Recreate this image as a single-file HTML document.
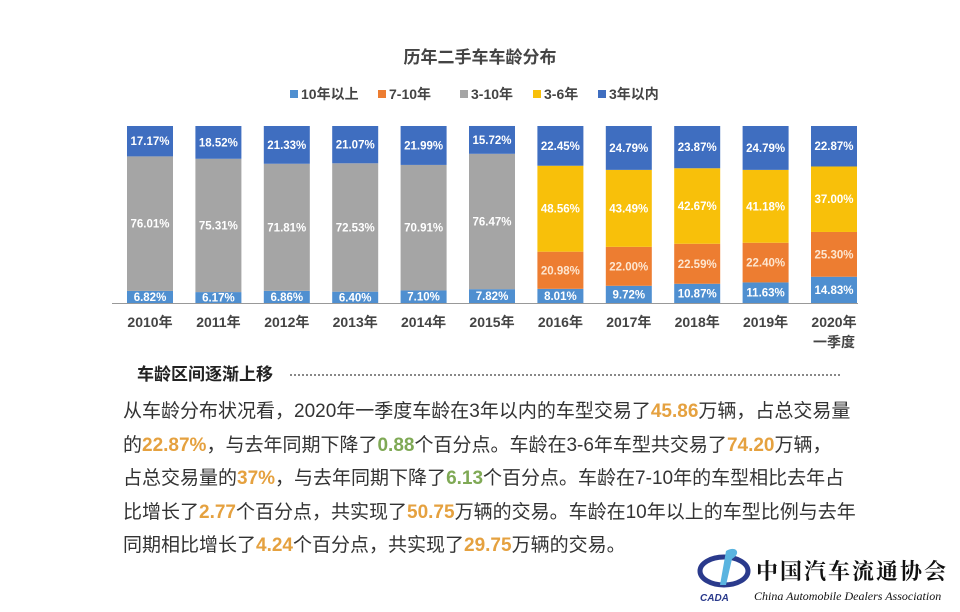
<!DOCTYPE html>
<html><head><meta charset="utf-8">
<style>
body{margin:0;background:#fff;width:960px;height:612px;overflow:hidden;position:relative;font-family:"Liberation Sans","Noto Sans CJK SC",sans-serif;}
#chart{position:absolute;left:0;top:0;}
.sec{position:absolute;left:137px;top:360px;font-size:17px;font-weight:bold;color:#222;white-space:nowrap;}
.dots{position:absolute;left:290px;top:374px;width:550px;border-top:2px dotted #888;}
.para{position:absolute;left:123px;top:395px;font-size:19px;color:#333;line-height:33.5px;}
.para div{white-space:nowrap;}
.o{color:#e5a13f;font-weight:bold;}
.g{color:#7fa955;font-weight:bold;}
.logo{position:absolute;left:696px;top:545px;}
</style></head><body>
<svg id="chart" width="960" height="360"></svg>
<div class="sec">车龄区间逐渐上移</div>
<div class="dots"></div>
<div class="para">
<div>从车龄分布状况看，2020年一季度车龄在3年以内的车型交易了<span class="o">45.86</span>万辆，占总交易量</div>
<div>的<span class="o">22.87%</span>，与去年同期下降了<span class="g">0.88</span>个百分点。车龄在3-6年车型共交易了<span class="o">74.20</span>万辆，</div>
<div>占总交易量的<span class="o">37%</span>，与去年同期下降了<span class="g">6.13</span>个百分点。车龄在7-10年的车型相比去年占</div>
<div>比增长了<span class="o">2.77</span>个百分点，共实现了<span class="o">50.75</span>万辆的交易。车龄在10年以上的车型比例与去年</div>
<div>同期相比增长了<span class="o">4.24</span>个百分点，共实现了<span class="o">29.75</span>万辆的交易。</div>
</div>
<svg class="logo" width="264" height="62">
<ellipse cx="28" cy="26" rx="24" ry="14" fill="none" stroke="#2a3a8c" stroke-width="5"/>
<path d="M30 6 C40 0 46 8 36 14 L30 40 L24 40 Z" fill="#5ab4e0"/>
<text x="4" y="56" font-size="10" font-weight="bold" font-style="italic" fill="#2a3a8c" font-family="Liberation Sans">CADA</text>
<text x="60" y="34" font-size="22" font-weight="bold" fill="#111" font-family="Noto Serif CJK SC,serif" letter-spacing="2">中国汽车流通协会</text>
<text x="58" y="55" font-size="12" font-style="italic" fill="#111" font-family="Liberation Serif,serif">China Automobile Dealers Association</text>
</svg>
<script>
const categories=["2010年","2011年","2012年","2013年","2014年","2015年","2016年","2017年","2018年","2019年","2020年"];
const s10plus=[6.82,6.17,6.86,6.40,7.10,7.82,8.01,9.72,10.87,11.63,14.83];
const s7to10=[0,0,0,0,0,0,20.98,22.00,22.59,22.40,25.30];
const s3to10=[76.01,75.31,71.81,72.53,70.91,76.47,0,0,0,0,0];
const s3to6=[0,0,0,0,0,0,48.56,43.49,42.67,41.18,37.00];
const s3in=[17.17,18.52,21.33,21.07,21.99,15.72,22.45,24.79,23.87,24.79,22.87];
const seriesNames=["10年以上","7-10年","3-10年","3-6年","3年以内"];
const series=[s10plus,s7to10,s3to10,s3to6,s3in];
const colors=["#4f8fd0","#ed7d31","#a5a5a5","#f8c00a","#3f6ec0"];
const labelColors=["#fff","#fde6d0","#fff","#fff","#fff"];
const NS="http://www.w3.org/2000/svg";
const svg=document.getElementById('chart');
const x0=150,step=68.4,bw=46,yBase=303,yTop=126;
const xPos=i=>x0+i*step;
const yScale=v=>(yBase-yTop)*v/100;
function mk(t,a){const e=document.createElementNS(NS,t);for(const k in a)e.setAttribute(k,a[k]);svg.appendChild(e);return e;}
let t=mk('text',{x:480,y:63,'text-anchor':'middle','font-size':17,'font-weight':'bold',fill:'#444'});t.textContent="历年二手车车龄分布";


const lx=[290,378,460,533,598];
seriesNames.forEach((n,k)=>{
 const r=mk('rect',{x:lx[k],y:90,width:8,height:8,fill:colors[k]});
 
 
 const tx=mk('text',{x:lx[k]+11,y:99,'font-size':14,'font-weight':'bold',fill:'#444'});tx.textContent=n;
 
 
});
categories.forEach((c,i)=>{
 let acc=0;
 series.forEach((s,k)=>{
  const v=s[i]; if(!v) return;
  const h=yScale(v), y=yBase-yScale(acc)-h;
  const r=mk('rect',{x:xPos(i)-bw/2,y:y,width:bw,height:h,fill:colors[k]});
  
  
  const ly=(k===0)?y+h/2+4:(k===4?y+h/2+4:y+h/2+4);
  const lb=mk('text',{x:xPos(i),y:ly,'text-anchor':'middle','font-size':11.5,'font-weight':'bold',fill:labelColors[k]});
  lb.textContent=v.toFixed(2)+"%";
  
  
  acc+=v;
 });
 const xl=mk('text',{x:xPos(i),y:327,'text-anchor':'middle','font-size':14,'font-weight':'bold',fill:'#444'});xl.textContent=c;
 
 
});
const q=mk('text',{x:xPos(10),y:347,'text-anchor':'middle','font-size':14,'font-weight':'bold',fill:'#444'});q.textContent="一季度";


const ax=mk('line',{x1:112,y1:yBase+0.5,x2:858,y2:yBase+0.5,stroke:'#999','stroke-width':1});


</script>
</body></html>
